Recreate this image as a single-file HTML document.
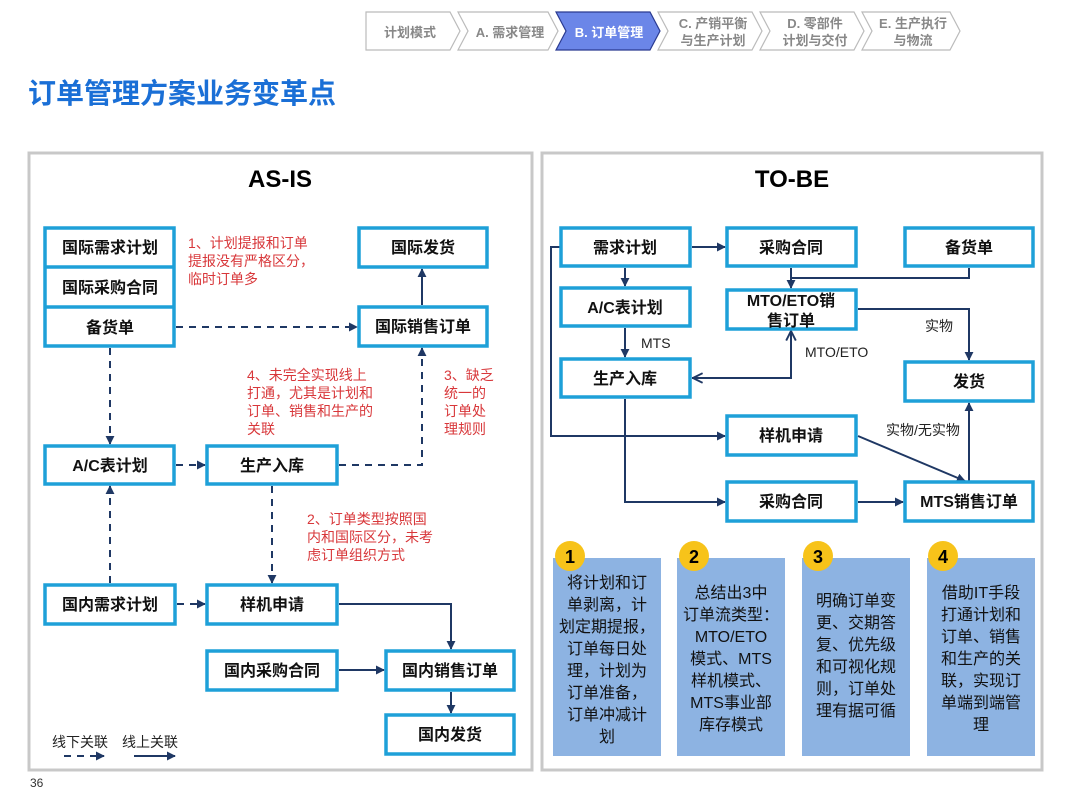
<!DOCTYPE html>
<html><head><meta charset="utf-8"><style>
body{margin:0;background:#fff;}
svg{display:block;font-family:"Liberation Sans","Noto Sans CJK SC",sans-serif;}
.b{fill:#fff;stroke:#1ea0d8;stroke-width:3.5;}
.t{font-size:16px;font-weight:bold;fill:#111;text-anchor:middle;}
.r{font-size:14px;fill:#d8373a;}
.l{stroke:#1f3864;stroke-width:2;fill:none;}
.d{stroke:#1f3864;stroke-width:2;fill:none;stroke-dasharray:7,6;}
.g{font-size:14px;fill:#222;}
.c{font-size:16px;fill:#111;text-anchor:middle;}
.bc{font-size:13px;fill:#888;text-anchor:middle;font-weight:bold;}
</style></head><body>
<svg width="1080" height="810" viewBox="0 0 1080 810">
<defs><marker id="a" viewBox="0 0 10 10" refX="9" refY="5" markerWidth="4.5" markerHeight="4.5" orient="auto"><path d="M0,0L10,5L0,10z" fill="#1f3864"/></marker>
<marker id="o" viewBox="0 0 10 10" refX="9" refY="5" markerWidth="6" markerHeight="6" orient="auto"><path d="M1,1L9,5L1,9" fill="none" stroke="#1f3864" stroke-width="1.6"/></marker></defs>
<!-- breadcrumb -->
<g stroke="#bbb" stroke-width="1.2" fill="#fff">
<polygon points="366,12 450,12 460,31 450,50 366,50"/>
<polygon points="458,12 548,12 558,31 548,50 458,50 468,31"/>
<polygon points="556,12 650,12 660,31 650,50 556,50 566,31" fill="#6b86e8" stroke="#2a3a90"/>
<polygon points="658,12 752,12 762,31 752,50 658,50 668,31"/>
<polygon points="760,12 854,12 864,31 854,50 760,50 770,31"/>
<polygon points="862,12 950,12 960,31 950,50 862,50 872,31"/>
</g>
<text class="bc" x="410" y="37">计划模式</text>
<text class="bc" x="510" y="37">A. 需求管理</text>
<text class="bc" x="609" y="37" fill="#fff" style="fill:#fff">B. 订单管理</text>
<text class="bc" x="713" y="28">C. 产销平衡</text><text class="bc" x="713" y="45">与生产计划</text>
<text class="bc" x="815" y="28">D. 零部件</text><text class="bc" x="815" y="45">计划与交付</text>
<text class="bc" x="913" y="28">E. 生产执行</text><text class="bc" x="913" y="45">与物流</text>
<text x="28" y="103" style="font-size:28px;font-weight:bold;fill:#1a6fd6">订单管理方案业务变革点</text>
<!-- panels -->
<rect x="29" y="153" width="503" height="617" fill="none" stroke="#c8c8c8" stroke-width="3"/>
<rect x="542" y="153" width="500" height="617" fill="none" stroke="#c8c8c8" stroke-width="3"/>
<text x="280" y="187" style="font-size:24px;font-weight:bold;text-anchor:middle">AS-IS</text>
<text x="792" y="187" style="font-size:24px;font-weight:bold;text-anchor:middle">TO-BE</text>
<!-- left connectors -->
<line class="d" x1="176" y1="327" x2="357" y2="327" marker-end="url(#a)"/>
<line class="d" x1="110" y1="348" x2="110" y2="444" marker-end="url(#a)"/>
<line class="d" x1="176" y1="465" x2="205" y2="465" marker-end="url(#a)"/>
<polyline class="d" points="339,465 422,465 422,348" marker-end="url(#a)"/>
<line class="d" x1="110" y1="583" x2="110" y2="486" marker-end="url(#a)"/>
<line class="d" x1="272" y1="486" x2="272" y2="583" marker-end="url(#a)"/>
<line class="d" x1="177" y1="604" x2="205" y2="604" marker-end="url(#a)"/>
<line class="l" x1="422" y1="305" x2="422" y2="269" marker-end="url(#a)"/>
<polyline class="l" points="339,604 451,604 451,649" marker-end="url(#a)"/>
<line class="l" x1="339" y1="670" x2="384" y2="670" marker-end="url(#a)"/>
<line class="l" x1="451" y1="692" x2="451" y2="713" marker-end="url(#a)"/>
<!-- left boxes -->
<rect class="b" x="45" y="228" width="129" height="118"/>
<line x1="45" y1="267" x2="174" y2="267" stroke="#1ea0d8" stroke-width="3.5"/>
<line x1="45" y1="307" x2="174" y2="307" stroke="#1ea0d8" stroke-width="3.5"/>
<text class="t" x="110" y="253">国际需求计划</text>
<text class="t" x="110" y="293">国际采购合同</text>
<text class="t" x="110" y="333">备货单</text>
<rect class="b" x="359" y="228" width="128" height="39"/><text class="t" x="423" y="253">国际发货</text>
<rect class="b" x="359" y="307" width="128" height="39"/><text class="t" x="423" y="332">国际销售订单</text>
<rect class="b" x="45" y="446" width="129" height="38"/><text class="t" x="110" y="471">A/C表计划</text>
<rect class="b" x="207" y="446" width="130" height="38"/><text class="t" x="272" y="471">生产入库</text>
<rect class="b" x="45" y="585" width="130" height="39"/><text class="t" x="110" y="610">国内需求计划</text>
<rect class="b" x="207" y="585" width="130" height="39"/><text class="t" x="272" y="610">样机申请</text>
<rect class="b" x="207" y="651" width="130" height="39"/><text class="t" x="272" y="676">国内采购合同</text>
<rect class="b" x="386" y="651" width="128" height="39"/><text class="t" x="450" y="676">国内销售订单</text>
<rect class="b" x="386" y="715" width="128" height="39"/><text class="t" x="450" y="740">国内发货</text>
<!-- red notes -->
<text class="r"><tspan x="188" y="248">1、计划提报和订单</tspan><tspan x="188" y="266">提报没有严格区分，</tspan><tspan x="188" y="284">临时订单多</tspan></text>
<text class="r"><tspan x="247" y="380">4、未完全实现线上</tspan><tspan x="247" y="398">打通，尤其是计划和</tspan><tspan x="247" y="416">订单、销售和生产的</tspan><tspan x="247" y="434">关联</tspan></text>
<text class="r"><tspan x="444" y="380">3、缺乏</tspan><tspan x="444" y="398">统一的</tspan><tspan x="444" y="416">订单处</tspan><tspan x="444" y="434">理规则</tspan></text>
<text class="r"><tspan x="307" y="524">2、订单类型按照国</tspan><tspan x="307" y="542">内和国际区分，未考</tspan><tspan x="307" y="560">虑订单组织方式</tspan></text>
<text class="g" x="52" y="747">线下关联</text><text class="g" x="122" y="747">线上关联</text>
<line class="d" x1="64" y1="756" x2="104" y2="756" stroke-dasharray="6,5" marker-end="url(#a)"/>
<line class="l" x1="134" y1="756" x2="175" y2="756" marker-end="url(#a)"/>
<text x="30" y="787" style="font-size:12px;fill:#333">36</text>
<!-- right connectors -->
<line class="l" x1="692" y1="247" x2="725" y2="247" marker-end="url(#a)"/>
<line class="l" x1="625" y1="268" x2="625" y2="286" marker-end="url(#a)"/>
<line class="l" x1="625" y1="328" x2="625" y2="357" marker-end="url(#a)"/>
<text class="g" x="641" y="348">MTS</text>
<polyline class="l" points="561,247 551,247 551,436 725,436" marker-end="url(#a)"/>
<line class="l" x1="791" y1="268" x2="791" y2="288" marker-end="url(#a)"/>
<polyline class="l" points="969,268 969,278 791,278"/>
<polyline class="l" points="858,309 969,309 969,360" marker-end="url(#a)"/>
<text class="g" x="925" y="331">实物</text>
<polyline class="l" points="692,378 791,378 791,331" marker-end="url(#o)"/>
<line class="l" x1="720" y1="378" x2="693" y2="378" marker-end="url(#o)"/>
<text class="g" x="805" y="357">MTO/ETO</text>
<polyline class="l" points="625,399 625,502 725,502" marker-end="url(#a)"/>
<line class="l" x1="858" y1="502" x2="903" y2="502" marker-end="url(#a)"/>
<line class="l" x1="858" y1="436" x2="965" y2="481" marker-end="url(#a)"/>
<text class="g" x="886" y="435">实物/无实物</text>
<line class="l" x1="969" y1="481" x2="969" y2="403" marker-end="url(#a)"/>
<!-- right boxes -->
<rect class="b" x="561" y="228" width="129" height="38"/><text class="t" x="625" y="253">需求计划</text>
<rect class="b" x="727" y="228" width="129" height="38"/><text class="t" x="791" y="253">采购合同</text>
<rect class="b" x="905" y="228" width="128" height="38"/><text class="t" x="969" y="253">备货单</text>
<rect class="b" x="561" y="288" width="129" height="38"/><text class="t" x="625" y="313">A/C表计划</text>
<rect class="b" x="727" y="290" width="129" height="39"/><text class="t" x="791" y="306">MTO/ETO销</text><text class="t" x="791" y="326">售订单</text>
<rect class="b" x="561" y="359" width="129" height="38"/><text class="t" x="625" y="384">生产入库</text>
<rect class="b" x="905" y="362" width="128" height="39"/><text class="t" x="969" y="387">发货</text>
<rect class="b" x="727" y="416" width="129" height="39"/><text class="t" x="791" y="441">样机申请</text>
<rect class="b" x="727" y="482" width="129" height="39"/><text class="t" x="791" y="507">采购合同</text>
<rect class="b" x="905" y="482" width="128" height="39"/><text class="t" x="969" y="507">MTS销售订单</text>
<!-- cards -->
<g fill="#8db3e2">
<rect x="553" y="558" width="108" height="198"/><rect x="677" y="558" width="108" height="198"/>
<rect x="802" y="558" width="108" height="198"/><rect x="927" y="558" width="108" height="198"/>
</g>
<g fill="#f7c31a"><circle cx="570" cy="556" r="15"/><circle cx="694" cy="556" r="15"/><circle cx="818" cy="556" r="15"/><circle cx="943" cy="556" r="15"/></g>
<g style="font-size:18px;font-weight:bold;text-anchor:middle"><text x="570" y="563">1</text><text x="694" y="563">2</text><text x="818" y="563">3</text><text x="943" y="563">4</text></g>
<text class="c"><tspan x="607" y="588">将计划和订</tspan><tspan x="607" y="610">单剥离，计</tspan><tspan x="607" y="632">划定期提报，</tspan><tspan x="607" y="654">订单每日处</tspan><tspan x="607" y="676">理，计划为</tspan><tspan x="607" y="698">订单准备，</tspan><tspan x="607" y="720">订单冲减计</tspan><tspan x="607" y="742">划</tspan></text>
<text class="c"><tspan x="731" y="598">总结出3中</tspan><tspan x="731" y="620">订单流类型：</tspan><tspan x="731" y="642">MTO/ETO</tspan><tspan x="731" y="664">模式、MTS</tspan><tspan x="731" y="686">样机模式、</tspan><tspan x="731" y="708">MTS事业部</tspan><tspan x="731" y="730">库存模式</tspan></text>
<text class="c"><tspan x="856" y="606">明确订单变</tspan><tspan x="856" y="628">更、交期答</tspan><tspan x="856" y="650">复、优先级</tspan><tspan x="856" y="672">和可视化规</tspan><tspan x="856" y="694">则，订单处</tspan><tspan x="856" y="716">理有据可循</tspan></text>
<text class="c"><tspan x="981" y="598">借助IT手段</tspan><tspan x="981" y="620">打通计划和</tspan><tspan x="981" y="642">订单、销售</tspan><tspan x="981" y="664">和生产的关</tspan><tspan x="981" y="686">联，实现订</tspan><tspan x="981" y="708">单端到端管</tspan><tspan x="981" y="730">理</tspan></text>
</svg>
</body></html>
